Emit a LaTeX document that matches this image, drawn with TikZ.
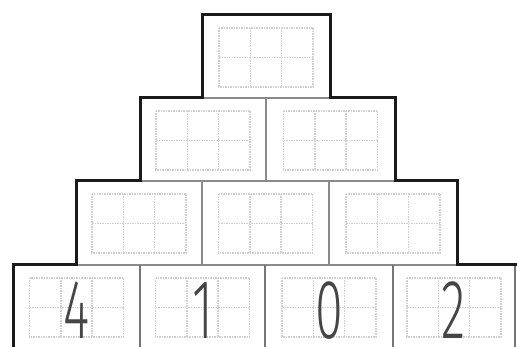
\documentclass[tikz,border=0pt]{standalone}
\usepackage{fontspec}
\newfontfamily\digitfont{Fira Sans Light}
\definecolor{outline}{HTML}{1A1A1A}
\definecolor{divider}{HTML}{8A8A8A}
\definecolor{gridc}{HTML}{D0D0D0}
\definecolor{digitc}{HTML}{454545}
\tikzset{
  cell/.style={draw=divider, line width=1.8pt, inner sep=0pt, outer sep=0pt},
  opencell/.style={inner sep=0pt, outer sep=0pt},
  sideline/.style={draw=divider!85!black, line width=1.8pt},
  outerline/.style={draw=outline, line width=3pt, line join=miter},
  fieldgrid/.style={draw=gridc, line width=1.5pt, densely dotted},
  digit/.style={text=digitc, inner sep=0pt, anchor=base},
}
\newcommand{\dig}[1]{\scalebox{1.2}[2]{\digitfont\fontsize{42}{42}\selectfont #1}}
\begin{document}
\begin{tikzpicture}[x=1pt,y=-1pt]
\useasboundingbox (0,0) rectangle (517,347);
% tian-zi style grids inside each cell
\foreach \l/\r/\t in {202/330/15,
  140/266/98, 266/395/98,
  76/202/181, 202/329/181, 329/457/181,
  13/140/265, 140/265/265, 265/393/265, 393/515/265}{
  \pgfmathsetmacro\cx{(\l+\r)/2}
  \pgfmathsetmacro\gl{\cx-47}
  \pgfmathsetmacro\ga{\cx-15.7}
  \pgfmathsetmacro\gb{\cx+15.7}
  \pgfmathsetmacro\gr{\cx+47}
  \pgfmathsetmacro\gt{\t+13}
  \pgfmathsetmacro\gm{\t+42.5}
  \pgfmathsetmacro\gbot{\t+72}
  \draw[fieldgrid] (\gl,\gt) rectangle (\gr,\gbot);
  \draw[fieldgrid] (\ga,\gt) -- (\ga,\gbot) (\gb,\gt) -- (\gb,\gbot) (\gl,\gm) -- (\gr,\gm);
}
% closed cells of the upper three rows
\foreach \n/\l/\r/\t/\b in {a1/202/330/15/98,
  b1/140/266/98/181, b2/266/395/98/181,
  c1/76/202/181/265, c2/202/329/181/265, c3/329/457/181/265}{
  \pgfmathsetmacro\w{\r-\l}
  \pgfmathsetmacro\h{\b-\t}
  \node[cell, minimum width=\w pt, minimum height=\h pt] (\n) at ({(\l+\r)/2},{(\t+\b)/2}) {};
}
% bottom row cells (open at the lower edge)
\foreach \n/\l/\r/\txt in {d1/13/140/4, d2/140/265/1, d3/265/393/0, d4/393/515/2}{
  \pgfmathsetmacro\w{\r-\l}
  \node[opencell, minimum width=\w pt, minimum height=82pt] (\n) at ({(\l+\r)/2},306) {};
  \node[digit] (t\n) at ({(\l+\r)/2},338.5) {\dig{\txt}};
}
\draw[sideline] (d1.north east) -- (d1.south east);
\draw[sideline] (d2.north east) -- (d2.south east);
\draw[sideline] (d3.north east) -- (d3.south east);
\draw[sideline] (d4.north east) -- (d4.south east);
% thick stepped outline
\draw[outerline] (d1.south west) -- (d1.north west) -- (c1.south west) -- (c1.north west)
  -- (b1.south west) -- (b1.north west) -- (a1.south west) -- (a1.north west)
  -- (a1.north east) -- (a1.south east) -- (b2.north east) -- (b2.south east)
  -- (c3.north east) -- (c3.south east) -- (d4.north east) -- ++(2,0);
\end{tikzpicture}
\end{document}
